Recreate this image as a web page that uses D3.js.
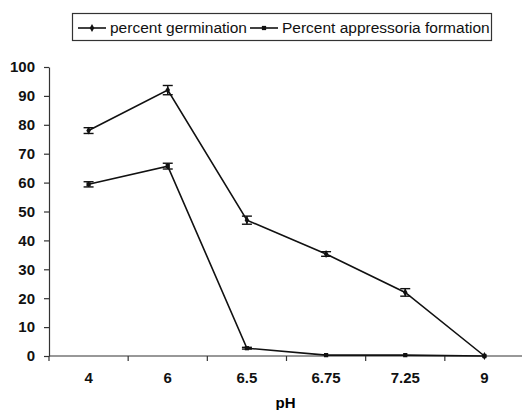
<!DOCTYPE html>
<html lang="en">
<head>
<meta charset="UTF-8">
<title>Germination vs pH</title>
<script src="https://d3js.org/d3.v7.min.js"></script>
<style>
  body { margin: 0; background: #fff; font-family: "Liberation Sans", Arial, sans-serif; }
  .axis text { font-size: 15px; font-weight: bold; fill: #111; }
  .axis path, .axis line { stroke: #333; stroke-width: 1.2; }
</style>
</head>
<body>
<svg id="chart" width="522" height="410"></svg>
<script>
const categories = ["4", "6", "6.5", "6.75", "7.25", "9"];
const germination = [78, 92, 47, 35.3, 22, 0];
const germinationErr = [1, 1.6, 1.4, 0.8, 1.3, 0];
const appressoria = [59.4, 65.7, 2.7, 0.3, 0.3, 0];
const appressoriaErr = [0.9, 1, 0.3, 0, 0, 0];
const yTicks = [0, 10, 20, 30, 40, 50, 60, 70, 80, 90, 100];
const seriesNames = ["percent germination", "Percent appressoria formation"];

const svg = d3.select("#chart");
const margin = { left: 49, right: -2, top: 67, bottom: 54 };
const width = 522, height = 410;

const x = d3.scaleBand()
  .domain(categories)
  .range([margin.left, width - margin.right]);

const y = d3.scaleLinear()
  .domain([0, 100])
  .range([height - margin.bottom, margin.top]);

// y axis
svg.append("g")
  .attr("class", "axis")
  .attr("transform", `translate(${margin.left},0)`)
  .call(d3.axisLeft(y).tickValues(yTicks).tickSize(5).tickPadding(9).tickSizeOuter(0));

// x axis, ticks on band boundaries
const xAxis = svg.append("g")
  .attr("class", "axis")
  .attr("transform", `translate(0,${y(0)})`);
xAxis.append("line")
  .attr("x1", margin.left).attr("x2", width)
  .attr("stroke", "#333").attr("stroke-width", 1.2);
xAxis.selectAll(".tk")
  .data(categories)
  .join("line")
  .attr("x1", d => x(d)).attr("x2", d => x(d))
  .attr("y1", 0).attr("y2", 5)
  .attr("stroke", "#333").attr("stroke-width", 1.2);
xAxis.selectAll(".lbl")
  .data(categories)
  .join("text")
  .attr("x", d => x(d) + x.bandwidth() / 2)
  .attr("y", 27)
  .attr("text-anchor", "middle")
  .text(d => d);

svg.append("text")
  .attr("x", (margin.left + width) / 2)
  .attr("y", 408)
  .attr("text-anchor", "middle")
  .style("font-size", "15px")
  .style("font-weight", "bold")
  .text("pH");

const cx = d => x(d) + x.bandwidth() / 2;
const line = d3.line()
  .x(d => cx(d.c))
  .y(d => y(d.v));

function drawSeries(values, errs, marker) {
  const data = categories.map((c, i) => ({ c, v: values[i], e: errs[i] }));
  const g = svg.append("g");
  g.append("path")
    .datum(data)
    .attr("fill", "none")
    .attr("stroke", "#111")
    .attr("stroke-width", 1.6)
    .attr("d", line);
  const eb = g.selectAll(".err").data(data.filter(d => d.e > 0)).join("g");
  eb.append("line")
    .attr("x1", d => cx(d.c)).attr("x2", d => cx(d.c))
    .attr("y1", d => y(d.v - d.e)).attr("y2", d => y(d.v + d.e))
    .attr("stroke", "#111").attr("stroke-width", 1.4);
  [-1, 1].forEach(s => {
    eb.append("line")
      .attr("x1", d => cx(d.c) - 5).attr("x2", d => cx(d.c) + 5)
      .attr("y1", d => y(d.v + s * d.e)).attr("y2", d => y(d.v + s * d.e))
      .attr("stroke", "#111").attr("stroke-width", 1.4);
  });
  g.selectAll(".mk").data(data).join("path")
    .attr("transform", d => `translate(${cx(d.c)},${y(d.v)})`)
    .attr("d", d3.symbol(marker, 18)())
    .attr("fill", "#111");
}

drawSeries(germination, germinationErr, d3.symbolDiamond);
drawSeries(appressoria, appressoriaErr, d3.symbolSquare);

// legend
const lg = svg.append("g");
lg.append("rect")
  .attr("x", 72.5).attr("y", 13.5)
  .attr("width", 419).attr("height", 27)
  .attr("fill", "none").attr("stroke", "#333").attr("stroke-width", 1.2);
const items = [
  { name: seriesNames[0], x: 78, marker: d3.symbolDiamond },
  { name: seriesNames[1], x: 250, marker: d3.symbolSquare }
];
items.forEach(it => {
  lg.append("line")
    .attr("x1", it.x).attr("x2", it.x + 28)
    .attr("y1", 28).attr("y2", 28)
    .attr("stroke", "#111").attr("stroke-width", 1.6);
  lg.append("path")
    .attr("transform", `translate(${it.x + 14},28)`)
    .attr("d", d3.symbol(it.marker, 18)())
    .attr("fill", "#111");
  lg.append("text")
    .attr("x", it.x + 32).attr("y", 33)
    .style("font-size", "15.5px")
    .attr("fill", "#111")
    .text(it.name);
});
</script>
</body>
</html>
